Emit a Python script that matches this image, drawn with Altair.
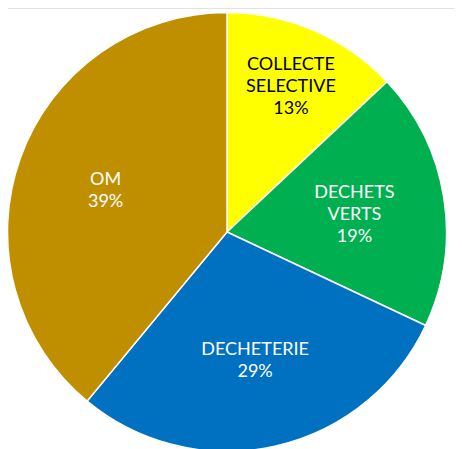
import altair as alt
import pandas as pd

categories = ["COLLECTE SELECTIVE", "DECHETS VERTS", "DECHETERIE", "OM"]
values = [13, 19, 29, 39]
colors = ["#FFFF00", "#00B050", "#0070C0", "#BF8F00"]
text_colors = ["#000000", "#FFFFFF", "#FFFFFF", "#FFFFFF"]

lines = [c.split(" ") + [f"{v}%"] for c, v in zip(categories, values)]
df = pd.DataFrame({
    "cat": categories,
    "value": values,
    "idx": list(range(len(categories))),
    "label": ["\n".join(l) for l in lines],
    "nl": [len(l) for l in lines],
})

CX, CY, R = 219, 224, 219.5
TOTAL = sum(values)
LH = 22

arcs = alt.Chart(df).mark_arc(stroke="white", strokeWidth=1.5).encode(
    theta=alt.Theta("value:Q", stack=True),
    order=alt.Order("idx:Q", sort="ascending"),
    color=alt.Color("cat:N", scale=alt.Scale(domain=categories, range=colors), legend=None),
    x=alt.value(CX),
    y=alt.value(CY),
    radius=alt.value(R),
)


def label_layer(n):
    return alt.Chart(df).transform_window(
        cum="sum(value)", sort=[alt.SortField("idx", order="ascending")]
    ).transform_filter(
        f"datum.nl == {n}"
    ).transform_calculate(
        mid="datum.cum - datum.value / 2",
        lr="datum.cat == 'COLLECTE SELECTIVE' ? 161 : 129",
    ).mark_text(
        font="Lato", fontSize=18, lineBreak="\n", lineHeight=LH,
        align="center", baseline="middle", dy=-(n - 1) * LH / 2 + 3,
    ).encode(
        theta=alt.Theta("mid:Q", stack=None,
                        scale=alt.Scale(domain=[0, TOTAL], range=[0, 6.283185307])),
        text="label:N",
        x=alt.value(CX),
        y=alt.value(CY),
        radius=alt.Radius("lr:Q", scale=None),
        color=alt.Color("cat:N", scale=alt.Scale(domain=categories, range=text_colors), legend=None),
    )


line = alt.Chart(pd.DataFrame({"a": [0]})).mark_rule(color="#d9d9d9", strokeWidth=1.5).encode(
    x=alt.value(-8), x2=alt.value(460), y=alt.value(0),
)

chart = alt.layer(arcs, label_layer(3), label_layer(2), line).resolve_scale(
    color="independent", theta="independent"
).properties(
    width=446, height=441, autosize=alt.AutoSizeParams(type="none"), padding=0,
).configure_view(stroke=None)

chart.save("out.html", embed_options={"renderer": "svg", "actions": False})
